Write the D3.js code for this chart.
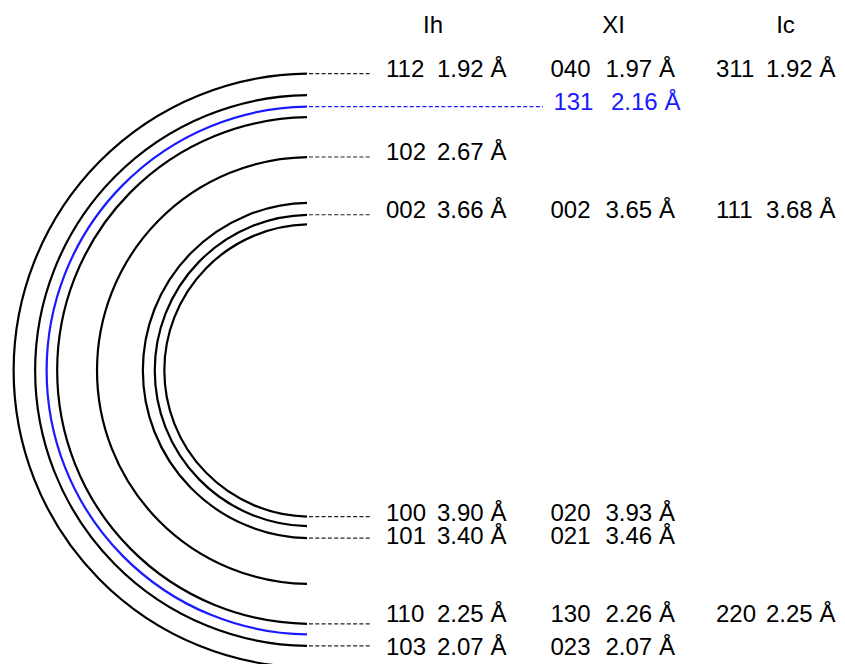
<!DOCTYPE html>
<html>
<head>
<meta charset="utf-8">
<script src="https://cdn.jsdelivr.net/npm/d3@7"></script>
<style>
  html, body { margin: 0; padding: 0; background: #fff; }
  svg { display: block; }
  text { font-family: "Liberation Sans", Arial, sans-serif; }
</style>
</head>
<body>
<div id="chart"></div>
<script>
// Ice phase reflections: hexagonal (Ih), orthorhombic (XI) and cubic (Ic).
// Each row is tied to one end (top or bottom) of a ring.
const rowEnd  = ["top", "top", "top", "top", "bottom", "bottom", "bottom", "bottom"];
const ihHkl   = ["112", "", "102", "002", "100", "101", "110", "103"];
const ihD     = [1.92, null, 2.67, 3.66, 3.90, 3.40, 2.25, 2.07];
const xiHkl   = ["040", "131", "", "002", "020", "021", "130", "023"];
const xiD     = [1.97, 2.16, null, 3.65, 3.93, 3.46, 2.26, 2.07];
const icHkl   = ["311", "", "", "111", "", "", "220", ""];
const icD     = [1.92, null, null, 3.68, null, null, 2.25, null];
// Which phase's spacing sets the ring of each row (Ih, or the XI-only 131 ring)
const ringSource = ["ih", "xi", "ih", "ih", "ih", "ih", "ih", "ih"];
const phaseHeaders = ["Ih", "XI", "Ic"];

// Layout: baseline shift of each label row relative to its leader line
const labelShift = [3.3, 3.4, 2.7, 3.3, 4.3, 5.8, -1.6, 9];

const W = 845, H = 664;
const cx = 310.5, cy = 370.5;
const FONT = 24;
const BLUE = "#1a1aff";

const svg = d3.select("#chart").append("svg")
  .attr("width", W).attr("height", H);

// Ring radius is proportional to reciprocal spacing 1/d
const rScale = d3.scaleLinear().domain([0, 1]).range([0, 570]);

const rows = rowEnd.map((end, i) => {
  const isXi = ringSource[i] === "xi";
  const d = isXi ? xiD[i] : ihD[i];
  return { end, d, blue: isXi, i };
});

const fmt = d => d.toFixed(2) + " \u00C5";
const ringEndX = cx - 3.5;

function ringPath(r) {
  const delta = Math.asin((cx - ringEndX) / r);
  const p = d3.path();
  p.arc(cx, cy, r, Math.PI / 2 + delta, 3 * Math.PI / 2 - delta, false);
  return p.toString();
}

// Rings, one per row spacing
svg.append("g").selectAll("path")
  .data(rows)
  .join("path")
  .attr("d", d => ringPath(rScale(1 / d.d)))
  .attr("fill", "none")
  .attr("stroke", d => d.blue ? BLUE : "#000")
  .attr("stroke-width", 2.2);

function endY(r) {
  const rad = rScale(1 / r.d);
  return r.end === "top" ? cy - rad : cy + rad;
}

// Leader lines from ring ends to labels
svg.append("g").selectAll("line")
  .data(rows)
  .join("line")
  .attr("x1", ringEndX + 2)
  .attr("x2", d => d.blue ? 543 : 372)
  .attr("y1", d => endY(d))
  .attr("y2", d => endY(d))
  .attr("stroke", d => d.blue ? BLUE : "#222")
  .attr("stroke-width", 1.2)
  .attr("stroke-dasharray", "4,2.3");

// Column headers
const headerX = [433, 613.5, 785.5];
svg.append("g").selectAll("text")
  .data(phaseHeaders)
  .join("text")
  .attr("x", (d, i) => headerX[i])
  .attr("y", 33)
  .attr("text-anchor", "middle")
  .attr("font-size", FONT)
  .text(d => d);

// Column text positions: [hkl x, d x]
const cols = [
  { hkl: ihHkl, d: ihD, x: [386, 437] },
  { hkl: xiHkl, d: xiD, x: [550.5, 605.5] },
  { hkl: icHkl, d: icD, x: [716, 766] }
];

cols.forEach(col => {
  const g = svg.append("g");
  rows.forEach(r => {
    const i = r.i;
    if (!col.hkl[i]) return;
    const y = endY(r) + labelShift[i];
    const isBlue = r.blue && col.hkl === xiHkl;
    const color = isBlue ? BLUE : "#000";
    g.append("text")
      .attr("x", isBlue ? 553.4 : col.x[0])
      .attr("y", y)
      .attr("font-size", FONT)
      .attr("fill", color)
      .text(col.hkl[i]);
    g.append("text")
      .attr("x", isBlue ? 611 : col.x[1])
      .attr("y", y)
      .attr("font-size", FONT)
      .attr("fill", color)
      .text(fmt(col.d[i]));
  });
});
</script>
</body>
</html>
